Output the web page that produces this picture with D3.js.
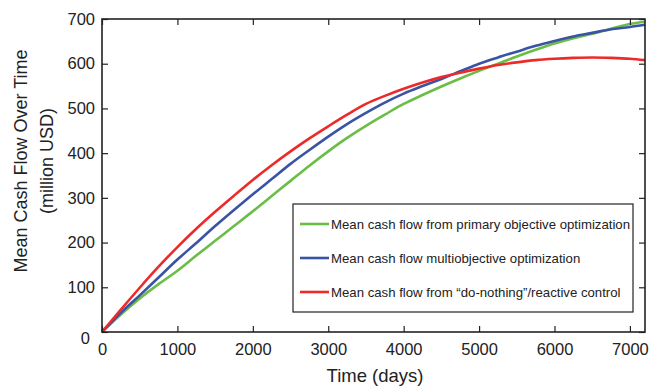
<!DOCTYPE html>
<html>
<head>
<meta charset="utf-8">
<script src="https://cdn.jsdelivr.net/npm/d3@7"></script>
<style>
  html, body { margin: 0; padding: 0; background: #fff; }
  svg { display: block; font-family: "Liberation Sans", Arial, Helvetica, sans-serif; }
</style>
</head>
<body>
<svg id="chart" width="657" height="388"></svg>
<script>
// Time axis samples (days)
const days = [0, 250, 500, 750, 1000, 1250, 1500, 1750, 2000, 2250, 2500, 2750, 3000, 3250, 3500,
  3750, 4000, 4250, 4500, 4750, 5000, 5250, 5500, 5750, 6000, 6250, 6500, 6750, 7000, 7200];

// Mean cash flow (million USD) per control strategy
const primaryObjective = [0, 39, 75, 107, 137, 171, 204, 237, 270, 304, 338, 372, 404, 434, 461,
  486, 510, 530, 549, 567, 584, 600, 616, 631, 645, 657, 667, 678, 689, 694];
const multiObjective = [0, 43, 82, 122, 162, 199, 237, 273, 308, 342, 376, 407, 437, 465, 490,
  513, 533, 550, 566, 583, 600, 614, 627, 640, 651, 661, 669, 677, 682, 687];
const doNothing = [0, 50, 99, 146, 190, 231, 269, 305, 340, 373, 404, 433, 460, 486, 510,
  528, 544, 558, 570, 580, 589, 597, 603, 608, 611, 613, 614, 613, 611, 608];

const xTicks = [0, 1000, 2000, 3000, 4000, 5000, 6000, 7000];
const yTicks = [0, 100, 200, 300, 400, 500, 600, 700];

const seriesNames = [
  "Mean cash flow from primary objective optimization",
  "Mean cash flow multiobjective optimization",
  "Mean cash flow from \u201cdo-nothing\u201d/reactive control"
];
const seriesColors = ["#6abd45", "#3a53a4", "#ed2a2a"];
const seriesValues = [primaryObjective, multiObjective, doNothing];

const svg = d3.select("#chart");
const m = { left: 102, top: 19, right: 645, bottom: 332 };

const x = d3.scaleLinear().domain([0, 7200]).range([m.left, m.right]);
const y = d3.scaleLinear().domain([0, 700]).range([m.bottom, m.top]);

const plot = svg.append("g");

// Curves
const line = d3.line()
  .x((d, i) => x(days[i]))
  .y(d => y(d))
  .curve(d3.curveMonotoneX);

seriesValues.forEach((vals, k) => {
  plot.append("path")
    .datum(vals)
    .attr("fill", "none")
    .attr("stroke", seriesColors[k])
    .attr("stroke-width", 2.6)
    .attr("stroke-linejoin", "round")
    .attr("d", line);
});

// Axes with inward ticks on all four sides
const tickLen = 6;
const axisStyle = g => {
  g.select(".domain").remove();
  g.selectAll(".tick line").attr("stroke", "#222").attr("stroke-width", 1.2);
  g.selectAll(".tick text").attr("fill", "#222").attr("font-size", 16.5)
    .attr("font-family", "\"Liberation Sans\", Arial, sans-serif");
};

svg.append("g")
  .attr("transform", `translate(0,${m.bottom})`)
  .call(d3.axisBottom(x).tickValues(xTicks).tickSize(-tickLen).tickPadding(11).tickFormat(d3.format("d")))
  .call(axisStyle);

svg.append("g")
  .attr("transform", `translate(0,${m.top})`)
  .call(d3.axisTop(x).tickValues(xTicks).tickSize(-tickLen).tickFormat(""))
  .call(axisStyle);

const yAxisG = svg.append("g")
  .attr("transform", `translate(${m.left},0)`)
  .call(d3.axisLeft(y).tickValues(yTicks).tickSize(-tickLen).tickPadding(7).tickFormat(d3.format("d")))
  .call(axisStyle);
// zero label sits a little below and left of the corner
yAxisG.selectAll(".tick").filter(d => d === 0).select("text")
  .attr("dy", "0.7em").attr("x", -12);

svg.append("g")
  .attr("transform", `translate(${m.right},0)`)
  .call(d3.axisRight(y).tickValues(yTicks).tickSize(-tickLen).tickFormat(""))
  .call(axisStyle);

// Frame
svg.append("rect")
  .attr("x", m.left).attr("y", m.top)
  .attr("width", m.right - m.left).attr("height", m.bottom - m.top)
  .attr("fill", "none").attr("stroke", "#222").attr("stroke-width", 1.6);

// Axis titles
svg.append("text")
  .attr("x", 375).attr("y", 382)
  .attr("text-anchor", "middle").attr("font-size", 18.5).attr("fill", "#222")
  .text("Time (days)");

const yTitle = svg.append("g").attr("transform", "translate(0,161) rotate(-90)");
yTitle.append("text").attr("x", 0).attr("y", 27)
  .attr("text-anchor", "middle").attr("font-size", 18).attr("fill", "#222")
  .text("Mean Cash Flow Over Time");
yTitle.append("text").attr("x", 0).attr("y", 53)
  .attr("text-anchor", "middle").attr("font-size", 18).attr("fill", "#222")
  .text("(million USD)");

// Legend
const lg = svg.append("g");
lg.append("rect")
  .attr("x", 293).attr("y", 204).attr("width", 340).attr("height", 108)
  .attr("fill", "#fff").attr("stroke", "#222").attr("stroke-width", 1.2);
seriesNames.forEach((name, k) => {
  const ly = 224 + k * 34;
  lg.append("line")
    .attr("x1", 300).attr("x2", 329).attr("y1", ly).attr("y2", ly)
    .attr("stroke", seriesColors[k]).attr("stroke-width", 2.6);
  lg.append("text")
    .attr("x", 331).attr("y", ly).attr("dy", "0.35em")
    .attr("font-size", 13.2).attr("fill", "#222")
    .text(name);
});
</script>
</body>
</html>
